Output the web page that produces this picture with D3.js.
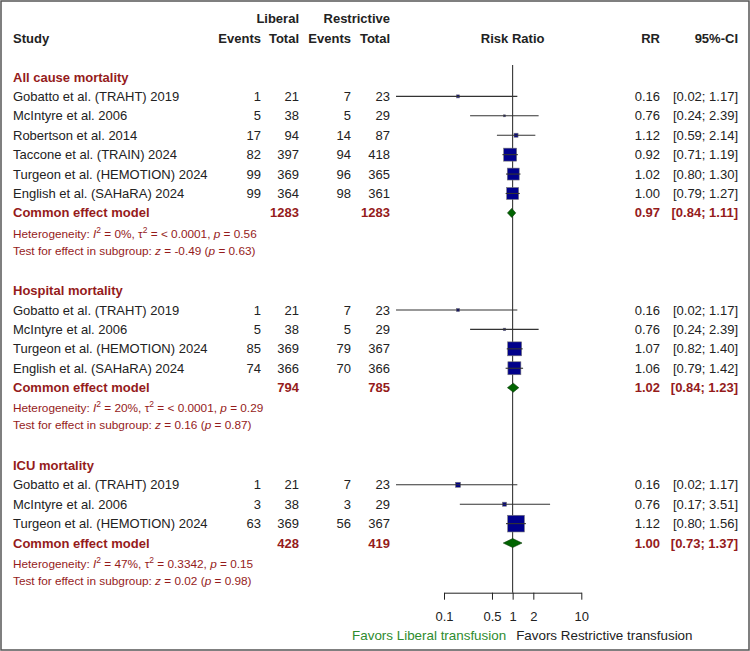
<!DOCTYPE html>
<meta charset="utf-8" />
<script src="https://d3js.org/d3.v7.min.js"></script>
<style>
  body { margin: 0; background: #fff; }
  text { font-family: "Liberation Sans", Arial, sans-serif; }
</style>
<div id="my_dataviz"></div>
<script>
  // ---- data ----
  const groupNames = ["All cause mortality", "Hospital mortality", "ICU mortality"];
  const studies = [
    "Gobatto et al. (TRAHT) 2019", "McIntyre et al. 2006", "Robertson et al. 2014",
    "Taccone et al. (TRAIN) 2024", "Turgeon et al. (HEMOTION) 2024", "English et al. (SAHaRA) 2024",
    "Gobatto et al. (TRAHT) 2019", "McIntyre et al. 2006", "Turgeon et al. (HEMOTION) 2024", "English et al. (SAHaRA) 2024",
    "Gobatto et al. (TRAHT) 2019", "McIntyre et al. 2006", "Turgeon et al. (HEMOTION) 2024"
  ];
  const studyGroup = [0, 0, 0, 0, 0, 0, 1, 1, 1, 1, 2, 2, 2];
  const libEvents = [1, 5, 17, 82, 99, 99, 1, 5, 85, 74, 1, 3, 63];
  const libTotal = [21, 38, 94, 397, 369, 364, 21, 38, 369, 366, 21, 38, 369];
  const resEvents = [7, 5, 14, 94, 96, 98, 7, 5, 79, 70, 7, 3, 56];
  const resTotal = [23, 29, 87, 418, 365, 361, 23, 29, 367, 366, 23, 29, 367];
  const rr = [0.16, 0.76, 1.12, 0.92, 1.02, 1.00, 0.16, 0.76, 1.07, 1.06, 0.16, 0.76, 1.12];
  const ciLow = [0.02, 0.24, 0.59, 0.71, 0.80, 0.79, 0.02, 0.24, 0.82, 0.79, 0.02, 0.17, 0.80];
  const ciHigh = [1.17, 2.39, 2.14, 1.19, 1.30, 1.27, 1.17, 2.39, 1.40, 1.42, 1.17, 3.51, 1.56];
  const boxWeight = [2.8, 1.2, 5, 52, 44, 44, 2.8, 1.9, 60, 52, 7.7, 5, 86];

  const pooledLibTotal = [1283, 794, 428];
  const pooledResTotal = [1283, 785, 419];
  const pooledRR = [0.97, 1.02, 1.00];
  const pooledLow = [0.84, 0.84, 0.73];
  const pooledHigh = [1.11, 1.23, 1.37];
  const hetI2 = ["0%", "20%", "47%"];
  const hetTau2 = ["< 0.0001", "< 0.0001", "0.3342"];
  const hetP = ["0.56", "0.29", "0.15"];
  const testZ = ["-0.49", "0.16", "0.02"];
  const testP = ["0.63", "0.87", "0.98"];

  const tickValues = [0.1, 0.5, 1, 2, 10];

  // ---- layout ----
  const W = 750, H = 651;
  const fs = 13;
  const dark = "#222";
  const red = "#951b1b";
  const rowY = (r) => 18.7 + 19.42 * r;

  const col = { study: 13, libEv: 261, libTot: 299, resEv: 351, resTot: 390, rr: 660, ci: 738 };

  const x = d3.scaleLog().domain([0.1, 10]).range([444, 581.3]);
  const boxSize = d3.scaleSqrt().domain([0, 100]).range([0, 18]);
  const fmt2 = d3.format(".2f");
  const ciText = (lo, hi) => `[${fmt2(lo)}; ${fmt2(hi)}]`;

  const svg = d3.select("#my_dataviz").append("svg")
    .attr("width", W).attr("height", H);

  svg.append("rect")
    .attr("x", 1).attr("y", 1).attr("width", W - 2).attr("height", H - 2)
    .attr("fill", "#fff").attr("stroke", "#555").attr("stroke-width", 1.5);

  function label(txt, xp, yp, anchor, opts = {}) {
    return svg.append("text")
      .attr("x", xp).attr("y", yp).attr("dy", "0.35em")
      .attr("text-anchor", anchor)
      .attr("font-size", opts.size || fs)
      .attr("font-weight", opts.bold ? "bold" : "normal")
      .attr("fill", opts.color || dark)
      .text(txt);
  }

  // header
  label("Liberal", col.libTot, rowY(0), "end", { bold: true });
  label("Restrictive", col.resTot, rowY(0), "end", { bold: true });
  label("Study", col.study, rowY(1), "start", { bold: true });
  label("Events", col.libEv, rowY(1), "end", { bold: true });
  label("Total", col.libTot, rowY(1), "end", { bold: true });
  label("Events", col.resEv, rowY(1), "end", { bold: true });
  label("Total", col.resTot, rowY(1), "end", { bold: true });
  label("Risk Ratio", x(1), rowY(1), "middle", { bold: true });
  label("RR", col.rr, rowY(1), "end", { bold: true });
  label("95%-CI", col.ci, rowY(1), "end", { bold: true });

  // assign rows
  const studyRow = [];
  const headRow = [], pooledRow = [];
  let r = 3;
  groupNames.forEach(function (g, gi) {
    headRow.push(r);
    r++;
    studies.forEach(function (s, i) {
      if (studyGroup[i] === gi) { studyRow[i] = r; r++; }
    });
    pooledRow.push(r);
    r += 4;
  });

  const axisY = 592.7;

  // reference line at RR = 1
  svg.append("line")
    .attr("x1", x(1)).attr("x2", x(1))
    .attr("y1", 65).attr("y2", axisY)
    .attr("stroke", "#222").attr("stroke-width", 1);

  // studies
  studies.forEach(function (s, i) {
    const y = rowY(studyRow[i]);
    label(s, col.study, y, "start");
    label(libEvents[i], col.libEv, y, "end");
    label(libTotal[i], col.libTot, y, "end");
    label(resEvents[i], col.resEv, y, "end");
    label(resTotal[i], col.resTot, y, "end");
    label(fmt2(rr[i]), col.rr, y, "end");
    label(ciText(ciLow[i], ciHigh[i]), col.ci, y, "end");

    const sz = boxSize(boxWeight[i]);
    svg.append("rect")
      .attr("x", x(rr[i]) - sz / 2).attr("y", y - sz / 2)
      .attr("width", sz).attr("height", sz)
      .attr("fill", "#00008b").attr("stroke", "#777").attr("stroke-width", 0.6);
    svg.append("line")
      .attr("x1", x(ciLow[i])).attr("x2", x(ciHigh[i]))
      .attr("y1", y).attr("y2", y)
      .attr("stroke", "#333").attr("stroke-width", 1.1);
  });

  // subgroup headings, pooled rows, heterogeneity lines
  groupNames.forEach(function (g, gi) {
    label(g, col.study, rowY(headRow[gi]), "start", { bold: true, color: red });
    const y = rowY(pooledRow[gi]);
    label("Common effect model", col.study, y, "start", { bold: true, color: red });
    label(pooledLibTotal[gi], col.libTot, y, "end", { bold: true, color: red });
    label(pooledResTotal[gi], col.resTot, y, "end", { bold: true, color: red });
    label(fmt2(pooledRR[gi]), col.rr, y, "end", { bold: true, color: red });
    label(ciText(pooledLow[gi], pooledHigh[gi]), col.ci, y, "end", { bold: true, color: red });

    const xl = x(pooledLow[gi]), xm = x(pooledRR[gi]), xh = x(pooledHigh[gi]);
    svg.append("path")
      .attr("d", `M${xl},${y}L${xm},${y - 4.5}L${xh},${y}L${xm},${y + 4.5}Z`)
      .attr("fill", "#006400").attr("stroke", "#0b3d0b").attr("stroke-width", 0.6);

    const hs = 11.8;
    const het = svg.append("text")
      .attr("x", col.study).attr("y", y + 20.5).attr("dy", "0.35em")
      .attr("font-size", hs).attr("fill", red);
    het.append("tspan").text("Heterogeneity: ");
    het.append("tspan").attr("font-style", "italic").text("I");
    het.append("tspan").attr("dy", -5).attr("font-size", 8.5).text("2");
    het.append("tspan").attr("dy", 5).text(` = ${hetI2[gi]}, \u03c4`);
    het.append("tspan").attr("dy", -5).attr("font-size", 8.5).text("2");
    het.append("tspan").attr("dy", 5).text(` = ${hetTau2[gi]}, `);
    het.append("tspan").attr("font-style", "italic").text("p");
    het.append("tspan").text(` = ${hetP[gi]}`);

    const tst = svg.append("text")
      .attr("x", col.study).attr("y", y + 37.5).attr("dy", "0.35em")
      .attr("font-size", hs).attr("fill", red);
    tst.append("tspan").text("Test for effect in subgroup: ");
    tst.append("tspan").attr("font-style", "italic").text("z");
    tst.append("tspan").text(` = ${testZ[gi]} (`);
    tst.append("tspan").attr("font-style", "italic").text("p");
    tst.append("tspan").text(` = ${testP[gi]})`);
  });

  // axis
  const axis = svg.append("g")
    .attr("transform", `translate(0,${axisY})`)
    .call(d3.axisBottom(x).tickValues(tickValues)
      .tickFormat(d3.format("")).tickSizeInner(7).tickSizeOuter(0).tickPadding(12));
  axis.selectAll("path, line").attr("stroke", "#222");
  axis.selectAll("text")
    .attr("font-size", fs).attr("fill", dark)
    .attr("font-family", "'Liberation Sans', Arial, sans-serif");

  label("Favors Liberal transfusion", x(1) - 6.5, 635, "end", { color: "#2e8b2e", size: 13.4 });
  label("Favors Restrictive transfusion", x(1) + 3.5, 635, "start", { size: 13.4 });
</script>
